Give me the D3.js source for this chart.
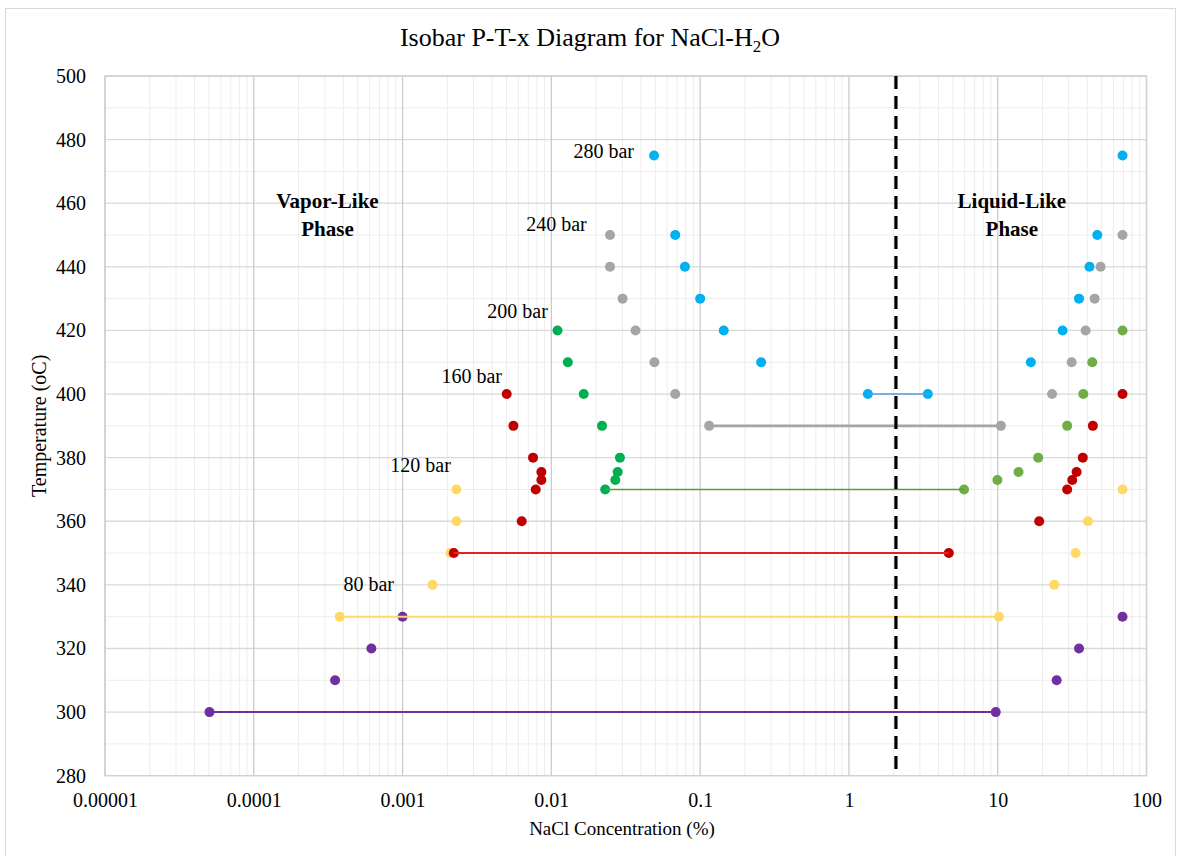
<!DOCTYPE html>
<html>
<head>
<meta charset="utf-8">
<script src="https://cdn.jsdelivr.net/npm/d3@7"></script>
<style>
  body { margin: 0; background: #fff; }
  svg { display: block; }
  text { font-family: "Liberation Serif", "Times New Roman", serif; fill: #000; }
</style>
</head>
<body>
<svg id="chart" width="1178" height="856"></svg>
<script>
// ---- Data: NaCl concentration (%) of the two coexisting phases along each isobar ----
const isobarNames = ["80 bar", "120 bar", "160 bar", "200 bar", "240 bar", "280 bar"];

// 80 bar
const temps80  = [330, 320, 310, 300];
const vapor80  = [0.001, 0.000617, 0.000352, 0.0000504];
const liquid80 = [69, 35.2, 24.9, 9.7];

// 120 bar
const temps120  = [370, 360, 350, 340, 330];
const vapor120  = [0.0023, 0.0023, 0.0021, 0.00159, 0.000378];
const liquid120 = [69, 40.4, 33.4, 24.0, 10.2];

// 160 bar
const temps160  = [400, 390, 380, 375.5, 373, 370, 360, 350];
const vapor160  = [0.00501, 0.00556, 0.00753, 0.00857, 0.00857, 0.00785, 0.00632, 0.00221];
const liquid160 = [69, 43.6, 37.3, 33.9, 31.7, 29.3, 19.0, 4.69];

// 200 bar
const temps200  = [420, 410, 400, 390, 380, 375.5, 373, 370];
const vapor200  = [0.011, 0.0129, 0.0165, 0.0219, 0.0289, 0.0279, 0.0269, 0.023];
const liquid200 = [69, 43.2, 37.6, 29.3, 18.7, 13.8, 9.95, 5.94];

// 240 bar
const temps240  = [450, 440, 430, 420, 410, 400, 390];
const vapor240  = [0.0248, 0.0248, 0.0301, 0.0368, 0.0493, 0.068, 0.115];
const liquid240 = [69, 49.1, 44.8, 39.0, 31.4, 23.2, 10.5];

// 280 bar
const temps280  = [475, 450, 440, 430, 420, 410, 400];
const vapor280  = [0.049, 0.068, 0.079, 0.1, 0.144, 0.257, 1.34];
const liquid280 = [69, 46.7, 41.4, 35.2, 27.3, 16.7, 3.39];

// Isobar label anchors (right end of text): concentration, temperature
const labelX = [0.000875, 0.00211, 0.00466, 0.00948, 0.0173, 0.0359];
const labelT = [340.2, 377.5, 405.5, 425.9, 453.4, 476.2];

// Phase boundary (dashed) and phase region captions
const boundaryX = 2.07;
const phaseCaptions = [["Vapor-Like", "Phase"], ["Liquid-Like", "Phase"]];
const phaseCaptionX = [0.000313, 12.45];
const phaseCaptionT = 458.5;

// Axis ticks
const xTickValues = [0.00001, 0.0001, 0.001, 0.01, 0.1, 1, 10, 100];
const xTickLabels = ["0.00001", "0.0001", "0.001", "0.01", "0.1", "1", "10", "100"];
const yTickValues = d3.range(280, 501, 20);

// ---- Styling per isobar ----
const vaporColors  = ["#7030A0", "#FFD966", "#C00000", "#00B050", "#A5A5A5", "#00B0F0"];
const liquidColors = ["#7030A0", "#FFD966", "#C00000", "#70AD47", "#A5A5A5", "#00B0F0"];
const tieColors    = ["#7030A0", "#FFD966", "#E42424", "#5B9A3E", "#A5A5A5", "#5B9BD5"];
const tieWidths    = [2, 2, 2, 1.6, 2.6, 1.6];

const series = [
  [temps80, vapor80, liquid80],
  [temps120, vapor120, liquid120],
  [temps160, vapor160, liquid160],
  [temps200, vapor200, liquid200],
  [temps240, vapor240, liquid240],
  [temps280, vapor280, liquid280]
].map(([t, v, l], i) => ({
  name: isobarNames[i],
  vapor: t.map((T, k) => ({ T, x: v[k] })),
  liquid: t.map((T, k) => ({ T, x: l[k] })),
  tie: [{ T: t[t.length - 1], x: v[v.length - 1] }, { T: t[t.length - 1], x: l[l.length - 1] }],
  i
}));

// ---- Layout ----
const svg = d3.select("#chart");
const plotL = 105, plotR = 1146.5, plotT = 76, plotB = 775.7;

const x = d3.scaleLog().domain([1e-5, 100]).range([plotL, plotR]);
const y = d3.scaleLinear().domain([280, 500]).range([plotB, plotT]);

// Outer chart frame
svg.append("rect")
  .attr("x", 5.5).attr("y", 8.5).attr("width", 1170).attr("height", 860)
  .attr("fill", "#fff").attr("stroke", "#D9D9D9").attr("stroke-width", 1);

// Title
const title = svg.append("text")
  .attr("x", 590).attr("y", 46)
  .attr("text-anchor", "middle")
  .attr("font-size", 26);
title.append("tspan").text("Isobar P-T-x Diagram for NaCl-H");
title.append("tspan").attr("font-size", 17).attr("dy", 6).text("2");
title.append("tspan").attr("dy", -6).text("O");

// ---- Grid ----
const grid = svg.append("g");
const minorX = [];
for (let e = -5; e < 2; e++) {
  for (let m = 2; m <= 9; m++) minorX.push(m * Math.pow(10, e));
}
grid.selectAll("line.minor-x").data(minorX).join("line")
  .attr("x1", d => x(d)).attr("x2", d => x(d))
  .attr("y1", plotT).attr("y2", plotB)
  .attr("stroke", "#EDEDED").attr("stroke-width", 1);

const minorY = d3.range(290, 500, 20);
grid.selectAll("line.minor-y").data(minorY).join("line")
  .attr("x1", plotL).attr("x2", plotR)
  .attr("y1", d => y(d)).attr("y2", d => y(d))
  .attr("stroke", "#EDEDED").attr("stroke-width", 1);

grid.selectAll("line.major-y").data(yTickValues).join("line")
  .attr("x1", plotL).attr("x2", plotR)
  .attr("y1", d => y(d)).attr("y2", d => y(d))
  .attr("stroke", "#D9D9D9").attr("stroke-width", 1.3);

grid.selectAll("line.major-x").data(xTickValues).join("line")
  .attr("x1", d => x(d)).attr("x2", d => x(d))
  .attr("y1", plotT).attr("y2", plotB)
  .attr("stroke", "#CBCBCB").attr("stroke-width", 1.3);

grid.append("rect")
  .attr("x", plotL).attr("y", plotT)
  .attr("width", plotR - plotL).attr("height", plotB - plotT)
  .attr("fill", "none").attr("stroke", "#D0D0D0").attr("stroke-width", 1.3);

// ---- Axes ----
const yAxis = svg.append("g")
  .attr("transform", `translate(${plotL},0)`)
  .call(d3.axisLeft(y).tickValues(yTickValues).tickSize(0).tickPadding(19));
yAxis.select(".domain").remove();
yAxis.selectAll("text").attr("font-size", 20).attr("font-family", "Liberation Serif").attr("fill", "#000");

const xAxis = svg.append("g")
  .attr("transform", `translate(0,${plotB})`)
  .call(d3.axisBottom(x).tickValues(xTickValues).tickSize(0).tickPadding(17)
    .tickFormat((d, i) => xTickLabels[i]));
xAxis.select(".domain").remove();
xAxis.selectAll("text").attr("font-size", 20).attr("font-family", "Liberation Serif").attr("fill", "#000");

svg.append("text")
  .attr("x", 622).attr("y", 835)
  .attr("text-anchor", "middle").attr("font-size", 19)
  .text("NaCl Concentration (%)");

svg.append("text")
  .attr("transform", `translate(46,${(plotT + plotB) / 2}) rotate(-90)`)
  .attr("text-anchor", "middle").attr("font-size", 20)
  .text("Temperature (oC)");

// ---- Series ----
const line = d3.line().x(d => x(d.x)).y(d => y(d.T));
const plot = svg.append("g");

series.forEach(s => {
  const g = plot.append("g");
  g.selectAll("circle.v").data(s.vapor).join("circle")
    .attr("cx", d => x(d.x)).attr("cy", d => y(d.T)).attr("r", 5)
    .attr("fill", vaporColors[s.i]);
  g.selectAll("circle.l").data(s.liquid).join("circle")
    .attr("cx", d => x(d.x)).attr("cy", d => y(d.T)).attr("r", 5)
    .attr("fill", liquidColors[s.i]);
  g.append("path")
    .datum(s.tie)
    .attr("d", line)
    .attr("fill", "none")
    .attr("stroke", tieColors[s.i])
    .attr("stroke-width", tieWidths[s.i]);
});

// Isobar labels
plot.selectAll("text.isobar").data(isobarNames).join("text")
  .attr("x", (d, i) => x(labelX[i]))
  .attr("y", (d, i) => y(labelT[i]))
  .attr("dy", "0.34em")
  .attr("text-anchor", "end")
  .attr("font-size", 20)
  .text(d => d);

// Phase captions
phaseCaptions.forEach((lines, i) => {
  const t = svg.append("text")
    .attr("x", x(phaseCaptionX[i]))
    .attr("y", y(phaseCaptionT))
    .attr("text-anchor", "middle")
    .attr("font-size", 21)
    .attr("font-weight", "bold");
  lines.forEach((txt, k) => {
    t.append("tspan").attr("x", x(phaseCaptionX[i])).attr("dy", k === 0 ? 0 : 28.5).text(txt);
  });
});

// Dashed phase boundary
svg.append("line")
  .attr("x1", x(boundaryX)).attr("x2", x(boundaryX))
  .attr("y1", plotT).attr("y2", plotB)
  .attr("stroke", "#000").attr("stroke-width", 3.2)
  .attr("stroke-dasharray", "13,7");
</script>
</body>
</html>
